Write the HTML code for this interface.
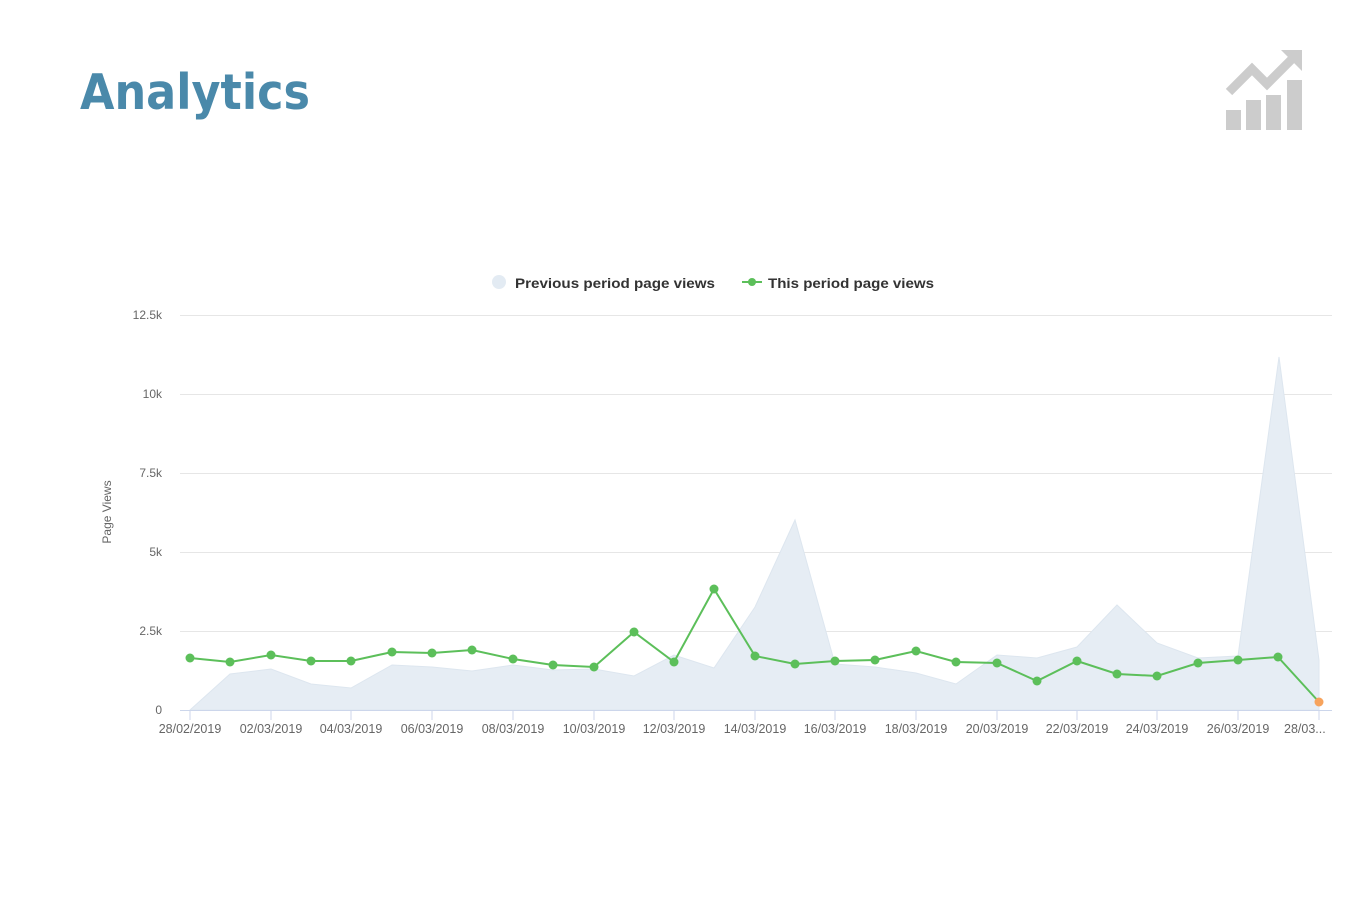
<!DOCTYPE html>
<html><head><meta charset="utf-8"><style>
body{margin:0;background:#fff;width:1372px;height:894px;overflow:hidden;font-family:"Liberation Sans","DejaVu Sans",sans-serif}
</style></head><body>
<svg width="1372" height="894" xmlns="http://www.w3.org/2000/svg" font-family="Liberation Sans, DejaVu Sans, sans-serif">
<text x="80" y="109" font-size="49" font-weight="bold" fill="#4a89aa" font-family="DejaVu Sans, sans-serif" textLength="230" lengthAdjust="spacingAndGlyphs">Analytics</text>
<g fill="#cccccc">
<rect x="1226" y="110" width="15" height="20"/><rect x="1246" y="100" width="15" height="30"/><rect x="1266" y="95" width="15" height="35"/><rect x="1287" y="80" width="15" height="50"/>
<polyline points="1229,92 1252,69 1267,84 1292,59" fill="none" stroke="#cccccc" stroke-width="9"/>
<polygon points="1281,50 1302,50 1302,71"/>
</g>
<circle cx="499" cy="282" r="7" fill="#e3ebf3"/>
<text x="515" y="288" font-size="14" font-weight="bold" fill="#333" textLength="200" lengthAdjust="spacingAndGlyphs">Previous period page views</text>
<line x1="742" y1="282" x2="762" y2="282" stroke="#5cbf5a" stroke-width="2"/><circle cx="752" cy="282" r="4" fill="#5cbf5a"/>
<text x="768" y="288" font-size="14" font-weight="bold" fill="#333" textLength="166" lengthAdjust="spacingAndGlyphs">This period page views</text>
<g stroke="#e6e6e6" stroke-width="1">
<line x1="180" y1="315.5" x2="1332" y2="315.5"/><line x1="180" y1="394.5" x2="1332" y2="394.5"/><line x1="180" y1="473.5" x2="1332" y2="473.5"/><line x1="180" y1="552.5" x2="1332" y2="552.5"/><line x1="180" y1="631.5" x2="1332" y2="631.5"/>
</g>
<g font-size="12" fill="#666" text-anchor="end">
<text x="162" y="319">12.5k</text><text x="162" y="398">10k</text><text x="162" y="477">7.5k</text><text x="162" y="556">5k</text><text x="162" y="635">2.5k</text><text x="162" y="714">0</text>
</g>
<text transform="translate(111,512) rotate(-90)" font-size="12" fill="#666" text-anchor="middle">Page Views</text>
<polygon fill="#e6edf4" stroke="#dde6ef" points="190,710 230,674 271,669 311,684 351,688 392,665 432,667 472,671 513,665 553,670 594,669 634,676 674,655 714,668 755,607 795,520 835,664 875,667 916,673 956,684 997,655 1037,658 1077,647 1117,605 1157,643 1198,658 1238,656 1279,357 1319,660 1319,710"/>
<line x1="180" y1="710.5" x2="1332" y2="710.5" stroke="#ccd6eb"/>
<g stroke="#ccd6eb">
<line x1="190" y1="710" x2="190" y2="720"/><line x1="271" y1="710" x2="271" y2="720"/><line x1="351" y1="710" x2="351" y2="720"/><line x1="432" y1="710" x2="432" y2="720"/><line x1="513" y1="710" x2="513" y2="720"/><line x1="594" y1="710" x2="594" y2="720"/><line x1="674" y1="710" x2="674" y2="720"/><line x1="755" y1="710" x2="755" y2="720"/><line x1="835" y1="710" x2="835" y2="720"/><line x1="916" y1="710" x2="916" y2="720"/><line x1="997" y1="710" x2="997" y2="720"/><line x1="1077" y1="710" x2="1077" y2="720"/><line x1="1157" y1="710" x2="1157" y2="720"/><line x1="1238" y1="710" x2="1238" y2="720"/><line x1="1319" y1="710" x2="1319" y2="720"/>
</g>
<g font-size="12.5" fill="#666" text-anchor="middle">
<text x="190" y="733">28/02/2019</text><text x="271" y="733">02/03/2019</text><text x="351" y="733">04/03/2019</text><text x="432" y="733">06/03/2019</text><text x="513" y="733">08/03/2019</text><text x="594" y="733">10/03/2019</text><text x="674" y="733">12/03/2019</text><text x="755" y="733">14/03/2019</text><text x="835" y="733">16/03/2019</text><text x="916" y="733">18/03/2019</text><text x="997" y="733">20/03/2019</text><text x="1077" y="733">22/03/2019</text><text x="1157" y="733">24/03/2019</text><text x="1238" y="733">26/03/2019</text><text x="1284" y="733" text-anchor="start">28/03...</text>
</g>
<polyline fill="none" stroke="#5cbf5a" stroke-width="2" points="190,658 230,662 271,655 311,661 351,661 392,652 432,653 472,650 513,659 553,665 594,667 634,632 674,662 714,589 755,656 795,664 835,661 875,660 916,651 956,662 997,663 1037,681 1077,661 1117,674 1157,676 1198,663 1238,660 1278,657 1319,702"/>
<g fill="#5cbf5a">
<circle cx="190" cy="658" r="4.5"/><circle cx="230" cy="662" r="4.5"/><circle cx="271" cy="655" r="4.5"/><circle cx="311" cy="661" r="4.5"/><circle cx="351" cy="661" r="4.5"/><circle cx="392" cy="652" r="4.5"/><circle cx="432" cy="653" r="4.5"/><circle cx="472" cy="650" r="4.5"/><circle cx="513" cy="659" r="4.5"/><circle cx="553" cy="665" r="4.5"/><circle cx="594" cy="667" r="4.5"/><circle cx="634" cy="632" r="4.5"/><circle cx="674" cy="662" r="4.5"/><circle cx="714" cy="589" r="4.5"/><circle cx="755" cy="656" r="4.5"/><circle cx="795" cy="664" r="4.5"/><circle cx="835" cy="661" r="4.5"/><circle cx="875" cy="660" r="4.5"/><circle cx="916" cy="651" r="4.5"/><circle cx="956" cy="662" r="4.5"/><circle cx="997" cy="663" r="4.5"/><circle cx="1037" cy="681" r="4.5"/><circle cx="1077" cy="661" r="4.5"/><circle cx="1117" cy="674" r="4.5"/><circle cx="1157" cy="676" r="4.5"/><circle cx="1198" cy="663" r="4.5"/><circle cx="1238" cy="660" r="4.5"/><circle cx="1278" cy="657" r="4.5"/>
</g>
<circle cx="1319" cy="702" r="4.5" fill="#f7a35c"/>
</svg>
</body></html>
